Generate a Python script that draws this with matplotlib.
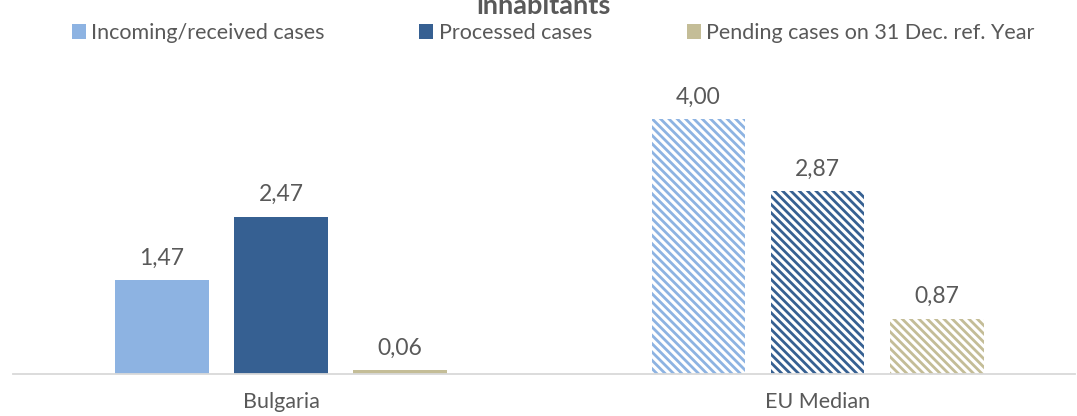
import numpy as np
import matplotlib
matplotlib.use("Agg")
import matplotlib.pyplot as plt
from matplotlib.patches import Patch

categories = ["Bulgaria", "EU Median"]
series = ["Incoming/received cases", "Processed cases", "Pending cases on 31 Dec. ref. Year"]
incoming = [1.47, 4.00]
processed = [2.47, 2.87]
pending = [0.06, 0.87]
values = [incoming, processed, pending]

colors = ["#8DB3E2", "#366092", "#C4BD97"]
text_grey = "#595959"

plt.rcParams["font.family"] = ["Lato", "DejaVu Sans"]
plt.rcParams["hatch.linewidth"] = 2.0

W, H, DPI = 1077, 416, 100
fig = plt.figure(figsize=(W / DPI, H / DPI), dpi=DPI)
ax = fig.add_axes([13 / W, 42 / H, (1075 - 13) / W, (374 - 50) / H])

x = np.arange(len(categories))
offsets = [-0.222, 0.0, 0.222]
width = 0.175

for i, (vals, col) in enumerate(zip(values, colors)):
    for j, v in enumerate(vals):
        if j == 0:
            ax.bar(x[j] + offsets[i], v, width, color=col, linewidth=0)
        else:
            # EU median bars are striped
            ax.bar(x[j] + offsets[i], v, width, facecolor="white", edgecolor=col,
                   hatch="\\\\\\\\", linewidth=0)
        ax.text(x[j] + offsets[i], v + 0.345, f"{v:.2f}".replace(".", ","),
                ha="center", va="center", fontsize=16.5, color=text_grey)

ax.set_xlim(-0.5, 1.48)
ax.set_ylim(0, 324 / 63.75)
ax.set_xticks(x)
ax.set_xticklabels(categories, fontsize=15.5, color=text_grey)
ax.tick_params(axis="x", length=0, pad=13)
ax.set_yticks([])
for s in ["top", "left", "right"]:
    ax.spines[s].set_visible(False)
ax.spines["bottom"].set_color("#D9D9D9")
ax.spines["bottom"].set_linewidth(1.3)

handles = [Patch(facecolor=c, edgecolor="none") for c in colors]
fig.legend(handles, series, loc="center", bbox_to_anchor=(553 / W, 1 - 33 / H), ncol=3,
           frameon=False, fontsize=15.5, labelcolor=text_grey, handlelength=0.65,
           handleheight=0.65, handletextpad=0.25, columnspacing=4.4,
           borderaxespad=0, borderpad=0)

fig.text(544 / W, 1 - 14 / H, "inhabitants", ha="center", va="baseline", fontsize=19.5,
         fontweight="bold", color=text_grey)

fig.savefig("out.png", dpi=DPI)
